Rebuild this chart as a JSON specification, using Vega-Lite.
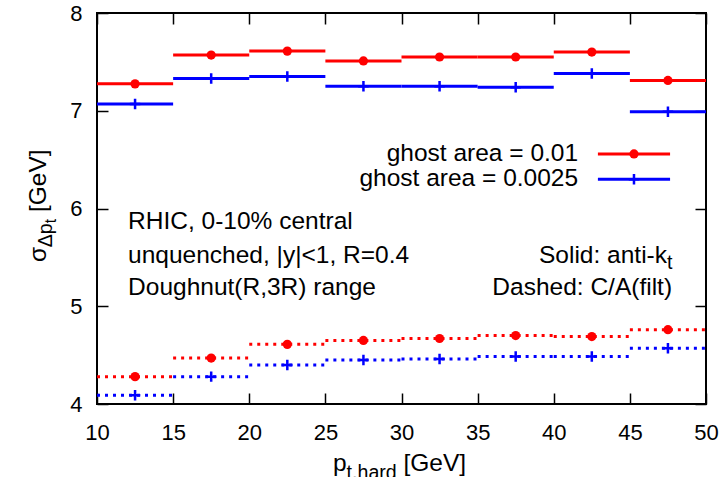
{
  "$schema": "https://vega.github.io/schema/vega-lite/v6.json",
  "width": 609,
  "height": 391,
  "autosize": {"type": "none"},
  "padding": {"left": 97, "top": 13, "right": 16, "bottom": 73},
  "config": {
    "font": "Liberation Sans",
    "view": {"stroke": "black", "strokeWidth": 2},
    "axis": {"domain": false, "grid": false, "ticks": true, "tickColor": "black", "tickWidth": 1.5, "tickSize": -11, "labelColor": "black", "labelFont": "Liberation Sans", "labelFontSize": 22, "labelFlush": false, "labelOverlap": false, "title": null}
  },
  "data": {"values": [{}]},
  "datasets": {
    "bins": [
      {"ghost": "0.01", "alg": "anti-kt", "lo": 10, "hi": 15, "c": 12.5, "v": 7.275},
      {"ghost": "0.01", "alg": "anti-kt", "lo": 15, "hi": 20, "c": 17.5, "v": 7.57},
      {"ghost": "0.01", "alg": "anti-kt", "lo": 20, "hi": 25, "c": 22.5, "v": 7.61},
      {"ghost": "0.01", "alg": "anti-kt", "lo": 25, "hi": 30, "c": 27.5, "v": 7.51},
      {"ghost": "0.01", "alg": "anti-kt", "lo": 30, "hi": 35, "c": 32.5, "v": 7.55},
      {"ghost": "0.01", "alg": "anti-kt", "lo": 35, "hi": 40, "c": 37.5, "v": 7.55},
      {"ghost": "0.01", "alg": "anti-kt", "lo": 40, "hi": 45, "c": 42.5, "v": 7.60},
      {"ghost": "0.01", "alg": "anti-kt", "lo": 45, "hi": 50, "c": 47.5, "v": 7.31},
      {"ghost": "0.0025", "alg": "anti-kt", "lo": 10, "hi": 15, "c": 12.5, "v": 7.07},
      {"ghost": "0.0025", "alg": "anti-kt", "lo": 15, "hi": 20, "c": 17.5, "v": 7.33},
      {"ghost": "0.0025", "alg": "anti-kt", "lo": 20, "hi": 25, "c": 22.5, "v": 7.35},
      {"ghost": "0.0025", "alg": "anti-kt", "lo": 25, "hi": 30, "c": 27.5, "v": 7.25},
      {"ghost": "0.0025", "alg": "anti-kt", "lo": 30, "hi": 35, "c": 32.5, "v": 7.25},
      {"ghost": "0.0025", "alg": "anti-kt", "lo": 35, "hi": 40, "c": 37.5, "v": 7.24},
      {"ghost": "0.0025", "alg": "anti-kt", "lo": 40, "hi": 45, "c": 42.5, "v": 7.38},
      {"ghost": "0.0025", "alg": "anti-kt", "lo": 45, "hi": 50, "c": 47.5, "v": 6.99},
      {"ghost": "0.01", "alg": "C/A(filt)", "lo": 10, "hi": 15, "c": 12.5, "v": 4.28},
      {"ghost": "0.01", "alg": "C/A(filt)", "lo": 15, "hi": 20, "c": 17.5, "v": 4.47},
      {"ghost": "0.01", "alg": "C/A(filt)", "lo": 20, "hi": 25, "c": 22.5, "v": 4.61},
      {"ghost": "0.01", "alg": "C/A(filt)", "lo": 25, "hi": 30, "c": 27.5, "v": 4.65},
      {"ghost": "0.01", "alg": "C/A(filt)", "lo": 30, "hi": 35, "c": 32.5, "v": 4.67},
      {"ghost": "0.01", "alg": "C/A(filt)", "lo": 35, "hi": 40, "c": 37.5, "v": 4.70},
      {"ghost": "0.01", "alg": "C/A(filt)", "lo": 40, "hi": 45, "c": 42.5, "v": 4.69},
      {"ghost": "0.01", "alg": "C/A(filt)", "lo": 45, "hi": 50, "c": 47.5, "v": 4.76},
      {"ghost": "0.0025", "alg": "C/A(filt)", "lo": 10, "hi": 15, "c": 12.5, "v": 4.09},
      {"ghost": "0.0025", "alg": "C/A(filt)", "lo": 15, "hi": 20, "c": 17.5, "v": 4.28},
      {"ghost": "0.0025", "alg": "C/A(filt)", "lo": 20, "hi": 25, "c": 22.5, "v": 4.40},
      {"ghost": "0.0025", "alg": "C/A(filt)", "lo": 25, "hi": 30, "c": 27.5, "v": 4.45},
      {"ghost": "0.0025", "alg": "C/A(filt)", "lo": 30, "hi": 35, "c": 32.5, "v": 4.46},
      {"ghost": "0.0025", "alg": "C/A(filt)", "lo": 35, "hi": 40, "c": 37.5, "v": 4.485},
      {"ghost": "0.0025", "alg": "C/A(filt)", "lo": 40, "hi": 45, "c": 42.5, "v": 4.485},
      {"ghost": "0.0025", "alg": "C/A(filt)", "lo": 45, "hi": 50, "c": 47.5, "v": 4.57}
    ]
  },
  "resolve": {"axis": {"x": "independent", "y": "independent"}},
  "layer": [
    {
      "data": {"name": "bins"},
      "mark": {"type": "rule", "strokeWidth": 3},
      "encoding": {
        "x": {"field": "lo", "type": "quantitative", "scale": {"domain": [10, 50], "nice": false, "zero": false}, "axis": {"orient": "bottom", "values": [10, 15, 20, 25, 30, 35, 40, 45, 50], "labelPadding": 29}},
        "x2": {"field": "hi"},
        "y": {"field": "v", "type": "quantitative", "scale": {"domain": [4, 8], "nice": false, "zero": false}, "axis": {"orient": "left", "values": [4, 5, 6, 7, 8], "labelPadding": 26}},
        "color": {"field": "ghost", "type": "nominal", "scale": {"domain": ["0.01", "0.0025"], "range": ["#ff0000", "#0000ff"]}, "legend": null},
        "strokeDash": {"field": "alg", "type": "nominal", "scale": {"domain": ["anti-kt", "C/A(filt)"], "range": [[1, 0], [3, 5]]}, "legend": null}
      }
    },
    {
      "data": {"name": "bins"},
      "transform": [{"filter": "datum.ghost == '0.01'"}],
      "mark": {"type": "point", "shape": "circle", "filled": true, "color": "#ff0000", "size": 85, "opacity": 1},
      "encoding": {
        "x": {"field": "c", "type": "quantitative", "axis": {"orient": "top", "values": [10, 15, 20, 25, 30, 35, 40, 45, 50], "labels": false}},
        "y": {"field": "v", "type": "quantitative", "axis": {"orient": "right", "values": [4, 5, 6, 7, 8], "labels": false}}
      }
    },
    {
      "data": {"name": "bins"},
      "transform": [{"filter": "datum.ghost == '0.0025'"}],
      "mark": {"type": "point", "shape": "M-1,0H1M0,-1V1", "filled": false, "color": "#0000ff", "strokeWidth": 2.5, "size": 110, "opacity": 1},
      "encoding": {
        "x": {"field": "c", "type": "quantitative", "axis": null},
        "y": {"field": "v", "type": "quantitative", "axis": null}
      }
    },
    {
      "mark": {"type": "rule", "color": "#ff0000", "strokeWidth": 3},
      "encoding": {"x": {"datum": 42.9, "type": "quantitative", "axis": null}, "x2": {"datum": 47.64}, "y": {"datum": 6.558, "type": "quantitative", "axis": null}}
    },
    {
      "mark": {"type": "rule", "color": "#0000ff", "strokeWidth": 3},
      "encoding": {"x": {"datum": 42.9, "type": "quantitative", "axis": null}, "x2": {"datum": 47.64}, "y": {"datum": 6.30, "type": "quantitative", "axis": null}}
    },
    {
      "mark": {"type": "point", "shape": "circle", "filled": true, "color": "#ff0000", "size": 85, "opacity": 1},
      "encoding": {"x": {"datum": 45.27, "type": "quantitative", "axis": null}, "y": {"datum": 6.558, "type": "quantitative", "axis": null}}
    },
    {
      "mark": {"type": "point", "shape": "M-1,0H1M0,-1V1", "filled": false, "color": "#0000ff", "strokeWidth": 2.5, "size": 110, "opacity": 1},
      "encoding": {"x": {"datum": 45.27, "type": "quantitative", "axis": null}, "y": {"datum": 6.30, "type": "quantitative", "axis": null}}
    },
    {
      "mark": {"type": "text", "text": "ghost area = 0.01", "align": "right", "baseline": "middle", "fontSize": 24.5, "color": "black"},
      "encoding": {"x": {"datum": 41.6, "type": "quantitative", "axis": null}, "y": {"datum": 6.558, "type": "quantitative", "axis": null}}
    },
    {
      "mark": {"type": "text", "text": "ghost area = 0.0025", "align": "right", "baseline": "middle", "fontSize": 24.5, "color": "black"},
      "encoding": {"x": {"datum": 41.6, "type": "quantitative", "axis": null}, "y": {"datum": 6.30, "type": "quantitative", "axis": null}}
    },
    {
      "mark": {"type": "text", "text": "RHIC, 0-10% central", "align": "left", "baseline": "middle", "fontSize": 24.5, "color": "black"},
      "encoding": {"x": {"datum": 12.04, "type": "quantitative", "axis": null}, "y": {"datum": 5.862, "type": "quantitative", "axis": null}}
    },
    {
      "mark": {"type": "text", "text": "unquenched, |y|<1, R=0.4", "align": "left", "baseline": "middle", "fontSize": 24.5, "color": "black"},
      "encoding": {"x": {"datum": 12.04, "type": "quantitative", "axis": null}, "y": {"datum": 5.514, "type": "quantitative", "axis": null}}
    },
    {
      "mark": {"type": "text", "text": "Doughnut(R,3R) range", "align": "left", "baseline": "middle", "fontSize": 24.5, "color": "black"},
      "encoding": {"x": {"datum": 12.04, "type": "quantitative", "axis": null}, "y": {"datum": 5.187, "type": "quantitative", "axis": null}}
    },
    {
      "mark": {"type": "text", "text": "Solid: anti-k", "align": "right", "baseline": "middle", "fontSize": 24.5, "color": "black"},
      "encoding": {"x": {"datum": 47.44, "type": "quantitative", "axis": null}, "y": {"datum": 5.514, "type": "quantitative", "axis": null}}
    },
    {
      "mark": {"type": "text", "text": "t", "align": "left", "baseline": "middle", "fontSize": 19.6, "dy": 7, "color": "black"},
      "encoding": {"x": {"datum": 47.44, "type": "quantitative", "axis": null}, "y": {"datum": 5.514, "type": "quantitative", "axis": null}}
    },
    {
      "mark": {"type": "text", "text": "Dashed: C/A(filt)", "align": "right", "baseline": "middle", "fontSize": 24.5, "color": "black"},
      "encoding": {"x": {"datum": 47.77, "type": "quantitative", "axis": null}, "y": {"datum": 5.187, "type": "quantitative", "axis": null}}
    },
    {
      "mark": {"type": "text", "text": "p", "align": "left", "baseline": "alphabetic", "fontSize": 24.5, "dx": -68.5, "color": "black"},
      "encoding": {"x": {"datum": 30, "type": "quantitative", "axis": null}, "y": {"datum": 3.315, "type": "quantitative", "axis": null}}
    },
    {
      "mark": {"type": "text", "text": "t,hard", "align": "left", "baseline": "alphabetic", "fontSize": 19.6, "dx": -54.9, "dy": 8, "color": "black"},
      "encoding": {"x": {"datum": 30, "type": "quantitative", "axis": null}, "y": {"datum": 3.315, "type": "quantitative", "axis": null}}
    },
    {
      "mark": {"type": "text", "text": "[GeV]", "align": "left", "baseline": "alphabetic", "fontSize": 24.5, "dx": 2, "color": "black"},
      "encoding": {"x": {"datum": 30, "type": "quantitative", "axis": null}, "y": {"datum": 3.315, "type": "quantitative", "axis": null}}
    },
    {
      "mark": {"type": "text", "text": "σ", "align": "left", "baseline": "alphabetic", "fontSize": 24.5, "angle": 270, "dx": -53.5, "color": "black"},
      "encoding": {"x": {"datum": 6.65, "type": "quantitative", "axis": null}, "y": {"datum": 6.0, "type": "quantitative", "axis": null}}
    },
    {
      "mark": {"type": "text", "text": "Δp", "align": "left", "baseline": "alphabetic", "fontSize": 19.6, "angle": 270, "dx": -38.8, "dy": 6, "color": "black"},
      "encoding": {"x": {"datum": 6.65, "type": "quantitative", "axis": null}, "y": {"datum": 6.0, "type": "quantitative", "axis": null}}
    },
    {
      "mark": {"type": "text", "text": "t", "align": "left", "baseline": "alphabetic", "fontSize": 15.7, "angle": 270, "dx": -14.8, "dy": 10, "color": "black"},
      "encoding": {"x": {"datum": 6.65, "type": "quantitative", "axis": null}, "y": {"datum": 6.0, "type": "quantitative", "axis": null}}
    },
    {
      "mark": {"type": "text", "text": "[GeV]", "align": "left", "baseline": "alphabetic", "fontSize": 24.5, "angle": 270, "dx": -3.6, "color": "black"},
      "encoding": {"x": {"datum": 6.65, "type": "quantitative", "axis": null}, "y": {"datum": 6.0, "type": "quantitative", "axis": null}}
    }
  ]
}
